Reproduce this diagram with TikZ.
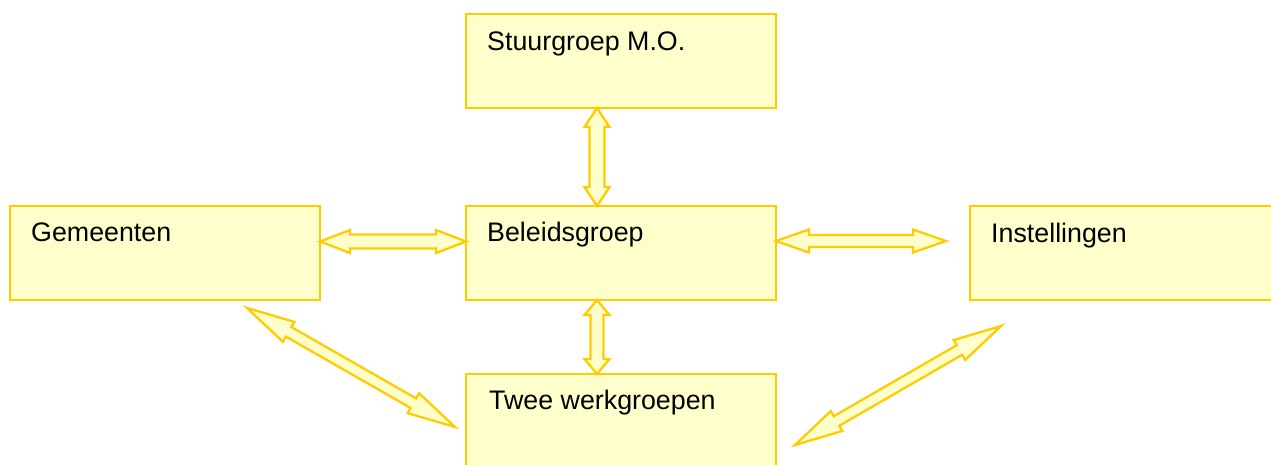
\documentclass[tikz,border=0pt]{standalone}
\usepackage{fontspec}
\setmainfont{Liberation Sans}
\usetikzlibrary{calc}
\definecolor{boxfill}{HTML}{FFFFCC}
\definecolor{boxline}{HTML}{FFCC00}
\tikzset{
  orgbox/.style={draw=boxline, fill=boxfill, line width=2.3pt, minimum width=310pt, minimum height=94pt, inner sep=0pt, outer sep=0pt},
  boxtext/.style={anchor=base west, inner sep=0pt, font=\fontsize{26.8}{32}\selectfont},
  blockarrow/.style={draw=boxline, fill=boxfill, line width=2.3pt, line join=miter}
}
\newcommand\dblarrow[5]{%
  \path ($(#1)!#3!(#2)$) coordinate (ha) ($(#2)!#3!(#1)$) coordinate (hb);
  \draw[blockarrow] (#1) -- ($(ha)!#4!90:(#2)$) -- ($(ha)!#5!90:(#2)$)
    -- ($(hb)!#5!-90:(#1)$) -- ($(hb)!#4!-90:(#1)$) -- (#2)
    -- ($(hb)!#4!90:(#1)$) -- ($(hb)!#5!90:(#1)$)
    -- ($(ha)!#5!-90:(#2)$) -- ($(ha)!#4!-90:(#2)$) -- cycle;
}
\begin{document}
\begin{tikzpicture}[x=1pt, y=-1pt]
\useasboundingbox (0,0) rectangle (1271,464);
\clip (0,0) rectangle (1271,464);
% boxes
\node[orgbox] (stu) at (621,61) {};
\node[orgbox] (gem) at (165,253) {};
\node[orgbox] (bel) at (621,253) {};
\node[orgbox] (ins) at (1125,253) {};
\node[orgbox] (twee) at (621,421) {};
% texts
\node[boxtext] (stuT) at ($(stu.north west)+(21,36)$) {Stuurgroep M.O.};
\node[boxtext] (gemT) at ($(gem.north west)+(21,35)$) {Gemeenten};
\node[boxtext] (belT) at ($(bel.north west)+(21,35)$) {Beleidsgroep};
\node[boxtext] (insT) at ($(ins.north west)+(21,36)$) {Instellingen};
\node[boxtext] (tweeT) at ($(twee.north west)+(23,35)$) {Twee werkgroepen};
% arrow end points
\coordinate (v1a) at ($(stu.south)+(-24,0)$);
\coordinate (v1b) at ($(bel.north)+(-24,0)$);
\coordinate (v2a) at ($(bel.south)+(-24,0)$);
\coordinate (v2b) at ($(twee.north)+(-24,0)$);
\coordinate (h1a) at ($(gem.east)+(0,-11.5)$);
\coordinate (h1b) at ($(bel.west)+(0,-11.5)$);
\coordinate (h2a) at ($(bel.east)+(0,-12)$);
\coordinate (h2b) at (946,241);
\coordinate (d1a) at (247,308);
\coordinate (d1b) at (455,427);
\coordinate (d2a) at (795,445);
\coordinate (d2b) at (1001,326);
% arrows
\dblarrow{v1a}{v1b}{19pt}{12.5pt}{7.5pt}
\dblarrow{v2a}{v2b}{15pt}{12.5pt}{6.5pt}
\dblarrow{h1a}{h1b}{30pt}{11.5pt}{7pt}
\dblarrow{h2a}{h2b}{33pt}{11.5pt}{6pt}
\dblarrow{d1a}{d1b}{48pt}{11.5pt}{5.5pt}
\dblarrow{d2a}{d2b}{48pt}{11.5pt}{5.5pt}
\end{tikzpicture}
\end{document}
